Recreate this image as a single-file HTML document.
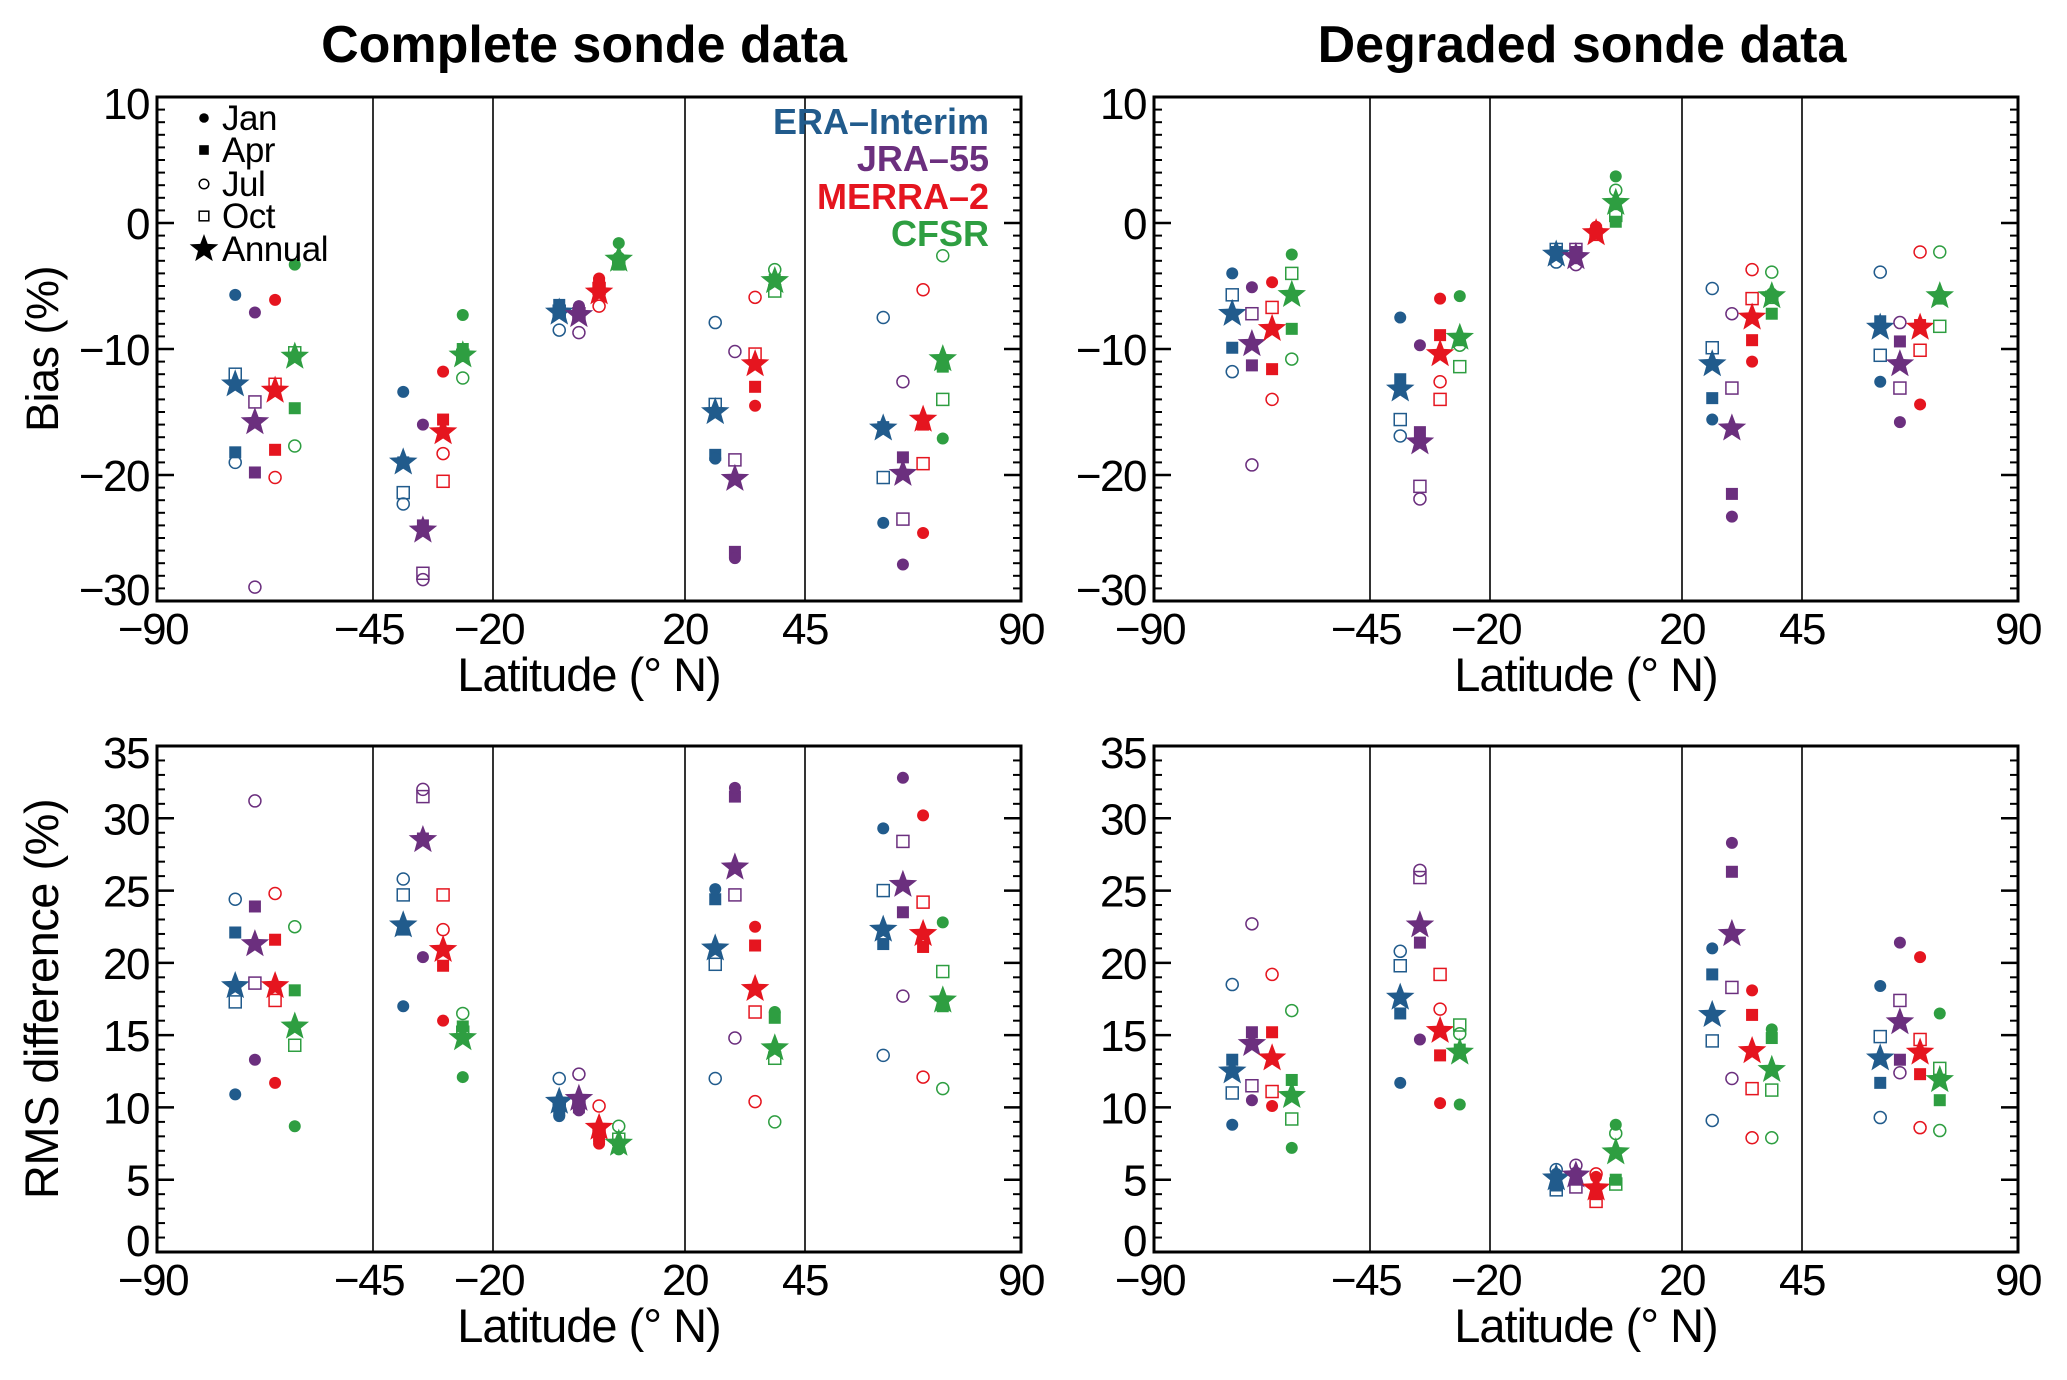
<!DOCTYPE html>
<html><head><meta charset="utf-8"><style>
body{margin:0;background:#fff}
svg text{font-family:"Liberation Sans",sans-serif}
</style></head><body>
<svg id="fig" xmlns="http://www.w3.org/2000/svg" width="2067" height="1375" viewBox="0 0 2067 1375">
<rect width="2067" height="1375" fill="#fff"/>
<text x="584" y="62" font-size="52" font-weight="bold" text-anchor="middle">Complete sonde data</text>
<text x="1582" y="62" font-size="52" font-weight="bold" text-anchor="middle">Degraded sonde data</text>
</svg>
<script>
// order of values within each band: [Jan, Apr, Jul, Oct, Annual]
const months = ['Jan','Apr','Jul','Oct','Annual'];
const bandCenters = [-67.5, -32.5, 0, 32.5, 67.5];
const series = ['ERA-Interim','JRA-55','MERRA-2','CFSR'];
const seriesOffsets = [-6.2, -2.1, 2.1, 6.2];
const dividers = [-45, -20, 20, 45];
const xTicks = [-90, -45, -20, 20, 45, 90];
const biasTicks = [10, 0, -10, -20, -30];
const rmsTicks = [35, 30, 25, 20, 15, 10, 5, 0];

// Complete sonde data - Bias
const biasCompleteERA   = [[-5.7,-18.2,-19,-12,-12.8],[-13.4,-19,-22.3,-21.4,-19],[-6.8,-6.5,-8.5,-7,-7.1],[-18.7,-18.4,-7.9,-14.4,-15],[-23.8,-16.2,-7.5,-20.2,-16.3]];
const biasCompleteJRA   = [[-7.1,-19.8,-28.9,-14.2,-15.8],[-16,-24,-28.3,-27.8,-24.4],[-6.6,-7,-8.7,-7.2,-7.3],[-26.6,-26.1,-10.2,-18.8,-20.3],[-27.1,-18.6,-12.6,-23.5,-19.9]];
const biasCompleteMERRA = [[-6.1,-18,-20.2,-12.8,-13.3],[-11.8,-15.6,-18.3,-20.5,-16.6],[-4.4,-4.8,-6.6,-5.2,-5.5],[-14.5,-13,-5.9,-10.4,-11.2],[-24.6,-16,-5.3,-19.1,-15.6]];
const biasCompleteCFSR  = [[-3.3,-14.7,-17.7,-10.3,-10.6],[-7.3,-10,-12.3,-10.5,-10.5],[-1.6,-3.3,-2.8,-3.2,-2.9],[-4.5,-4.5,-3.7,-5.4,-4.6],[-17.1,-11.4,-2.6,-14,-10.8]];
// Degraded sonde data - Bias
const biasDegradedERA   = [[-4,-9.9,-11.8,-5.7,-7.2],[-7.5,-12.4,-16.9,-15.6,-13.2],[-2.5,-2.3,-3.1,-2.1,-2.5],[-15.6,-13.9,-5.2,-9.9,-11.2],[-12.6,-7.8,-3.9,-10.5,-8.3]];
const biasDegradedJRA   = [[-5.1,-11.3,-19.2,-7.2,-9.6],[-9.7,-16.6,-21.9,-20.9,-17.4],[-2.8,-2.3,-3.3,-2.1,-2.7],[-23.3,-21.5,-7.2,-13.1,-16.3],[-15.8,-9.4,-7.9,-13.1,-11.2]];
const biasDegradedMERRA = [[-4.7,-11.6,-14,-6.7,-8.4],[-6,-8.9,-12.6,-14,-10.4],[-0.3,-0.6,-0.7,-0.9,-0.8],[-11,-9.3,-3.7,-6,-7.5],[-14.4,-8.1,-2.3,-10.1,-8.3]];
const biasDegradedCFSR  = [[-2.5,-8.4,-10.8,-4,-5.7],[-5.8,-9.3,-9.7,-11.4,-9.1],[3.7,0.1,2.6,0.6,1.6],[-5.6,-7.2,-3.9,-5.9,-5.8],[-5.7,-6,-2.3,-8.2,-5.8]];
// Complete sonde data - RMS
const rmsCompleteERA   = [[10.9,22.1,24.4,17.3,18.4],[17,22.3,25.8,24.7,22.6],[9.4,9.8,12,10.2,10.4],[25.1,24.4,12,19.9,21],[29.3,21.3,13.6,25,22.3]];
const rmsCompleteJRA   = [[13.3,23.9,31.2,18.6,21.3],[20.4,28.6,32,31.5,28.5],[9.8,10,12.3,10.4,10.6],[32.1,31.5,14.8,24.7,26.6],[32.8,23.5,17.7,28.4,25.4]];
const rmsCompleteMERRA = [[11.7,21.6,24.8,17.4,18.4],[16,19.8,22.3,24.7,20.9],[7.5,8,10.1,8.4,8.6],[22.5,21.2,10.4,16.6,18.2],[30.2,21.1,12.1,24.2,22]];
const rmsCompleteCFSR  = [[8.7,18.1,22.5,14.3,15.6],[12.1,15.6,16.5,15.2,14.8],[7.1,7.3,8.7,7.8,7.5],[16.6,16.2,9,13.4,14.1],[22.8,17,11.3,19.4,17.4]];
// Degraded sonde data - RMS
const rmsDegradedERA   = [[8.8,13.3,18.5,11,12.5],[11.7,16.5,20.8,19.8,17.6],[5.4,4.6,5.7,4.3,5.1],[21,19.2,9.1,14.6,16.4],[18.4,11.7,9.3,14.9,13.4]];
const rmsDegradedJRA   = [[10.5,15.2,22.7,11.5,14.4],[14.7,21.4,26.4,25.9,22.6],[5.5,5,6,4.5,5.3],[28.3,26.3,12,18.3,22],[21.4,13.3,12.4,17.4,15.9]];
const rmsDegradedMERRA = [[10.1,15.2,19.2,11.1,13.4],[10.3,13.6,16.8,19.2,15.3],[5.2,4,5.4,3.5,4.4],[18.1,16.4,7.9,11.3,13.9],[20.4,12.3,8.6,14.7,13.8]];
const rmsDegradedCFSR  = [[7.2,11.9,16.7,9.2,10.8],[10.2,14,15.1,15.7,13.8],[8.8,5,8.2,4.7,6.9],[15.4,14.8,7.9,11.2,12.6],[16.5,10.5,8.4,12.7,11.9]];

const colors = ['#215b8c','#6b2f7e','#e5151f','#2e9e41'];
const NS = 'http://www.w3.org/2000/svg';
const svg = document.getElementById('fig');
function mk(tag, attrs, parent){ const e=document.createElementNS(NS,tag); for(const k in attrs) e.setAttribute(k,attrs[k]); (parent||svg).appendChild(e); return e; }

const panels = [
 {id:'bias-complete', x0:157, x1:1021, y0:97, y1:601, ymin:-30, ymax:10, ticks:biasTicks, minor:1, major:10, data:[biasCompleteERA,biasCompleteJRA,biasCompleteMERRA,biasCompleteCFSR], ylab:'Bias (%)', legend:true},
 {id:'bias-degraded', x0:1154, x1:2018, y0:97, y1:601, ymin:-30, ymax:10, ticks:biasTicks, minor:1, major:10, data:[biasDegradedERA,biasDegradedJRA,biasDegradedMERRA,biasDegradedCFSR]},
 {id:'rms-complete', x0:157, x1:1021, y0:746, y1:1252, ymin:0, ymax:35, ticks:rmsTicks, minor:1, major:5, data:[rmsCompleteERA,rmsCompleteJRA,rmsCompleteMERRA,rmsCompleteCFSR], ylab:'RMS difference (%)'},
 {id:'rms-degraded', x0:1154, x1:2018, y0:746, y1:1252, ymin:0, ymax:35, ticks:rmsTicks, minor:1, major:5, data:[rmsDegradedERA,rmsDegradedJRA,rmsDegradedMERRA,rmsDegradedCFSR]}
];

function starPts(cx,cy,R){ const r=R*0.42; let p=[]; for(let i=0;i<10;i++){const a=-Math.PI/2+i*Math.PI/5; const rr=i%2?r:R; p.push((cx+rr*Math.cos(a)).toFixed(1)+','+(cy+rr*Math.sin(a)).toFixed(1));} return p.join(' '); }
function marker(g, m, cx, cy, col, s){
  let e;
  if(m===0) e=mk('circle',{cx:cx,cy:cy,r:6*s,fill:col},g);
  else if(m===1) e=mk('rect',{x:cx-6*s,y:cy-6*s,width:12*s,height:12*s,fill:col},g);
  else if(m===2) e=mk('circle',{cx:cx,cy:cy,r:6*s,fill:'none',stroke:col,'stroke-width':1.5},g);
  else if(m===3) e=mk('rect',{x:cx-6*s,y:cy-6*s,width:12*s,height:12*s,fill:'none',stroke:col,'stroke-width':1.5},g);
  else e=mk('polygon',{points:starPts(cx,cy,15*s),fill:col},g);
  return e;
}

panels.forEach(p=>{
  const g = mk('g',{});
  
  
  const xs = v => p.x0 + (v+90)/180*(p.x1-p.x0);
  const ys = v => p.y1 - (v-p.ymin)/(p.ymax-p.ymin)*(p.y1-p.y0);
  dividers.forEach(d=>{
    const l=mk('line',{x1:xs(d),x2:xs(d),y1:p.y0,y2:p.y1,stroke:'#000','stroke-width':1.6},g);
    
    
  });
  for(let v=p.ymin; v<=p.ymax; v+=p.minor){
    const isMaj = (v % p.major)===0;
    const L = isMaj?17:8;
    mk('line',{x1:p.x0,x2:p.x0+L,y1:ys(v),y2:ys(v),stroke:'#000','stroke-width':isMaj?2.5:2},g);
    mk('line',{x1:p.x1,x2:p.x1-L,y1:ys(v),y2:ys(v),stroke:'#000','stroke-width':isMaj?2.5:2},g);
  }
  const fr=mk('rect',{x:p.x0,y:p.y0,width:p.x1-p.x0,height:p.y1-p.y0,fill:'none',stroke:'#000','stroke-width':3},g);
  
  
  p.ticks.forEach((v,i)=>{
    let y = ys(v)+16;
    if(v===p.ymin) y -= 12;
    if(v===p.ymax) y += 6;
    const t=mk('text',{x:p.x0-8,y:y,'font-size':44,'text-anchor':'end','letter-spacing':'-1.5'},g);
    t.textContent = v<0 ? '\u2212'+Math.abs(v) : String(v);
    
    
  });
  xTicks.forEach(v=>{
    const t=mk('text',{x:xs(v)+ (v<0?-4:0),y:p.y1+43,'font-size':44,'text-anchor':'middle','letter-spacing':'-1.5'},g);
    t.textContent = v<0 ? '\u2212'+Math.abs(v) : String(v);
    
    
  });
  const xt=mk('text',{x:(p.x0+p.x1)/2,y:p.y1+90,'font-size':47,'text-anchor':'middle','letter-spacing':'-1'},g);
  xt.textContent='Latitude (\u00B0 N)';
  
  
  if(p.ylab){
    const cy=(p.y0+p.y1)/2;
    const fs = p.ylab.length>10 ? 47 : 45;
    const yt=mk('text',{x:0,y:0,'font-size':fs,'text-anchor':'middle',transform:'translate(58,'+cy+') rotate(-90)','letter-spacing':'-0.5'},g);
    yt.textContent=p.ylab;
    
    
  }
  p.data.forEach((arr,si)=>{
    const sg=mk('g',{},g);
    
    
    arr.forEach((vals,bi)=>{
      const cx = xs(bandCenters[bi]+seriesOffsets[si]);
      [3,2,1,0,4].forEach(m=>{
        const e = marker(sg, m, cx, ys(vals[m]), colors[si], 1);
        
        
      });
    });
  });
  if(p.legend){
    const lg=mk('g',{},g);
    
    
    const rows=[118,150,184,216,249];
    months.forEach((mn,i)=>{
      marker(lg, i, 204, rows[i], '#000', i===4?1:0.8);
      const t=mk('text',{x:222,y:rows[i]+12,'font-size':35,'letter-spacing':'-0.5'},lg);
      t.textContent=mn;
      
      
    });
    const mrows=[134,171,209,246];
    series.forEach((s,i)=>{
      const t=mk('text',{x:989,y:mrows[i],'font-size':36,'font-weight':'bold','text-anchor':'end',fill:colors[i]},lg);
      t.textContent=s.replace('-','\u2013');
      
      
    });
  }
});
</script>
</body></html>
